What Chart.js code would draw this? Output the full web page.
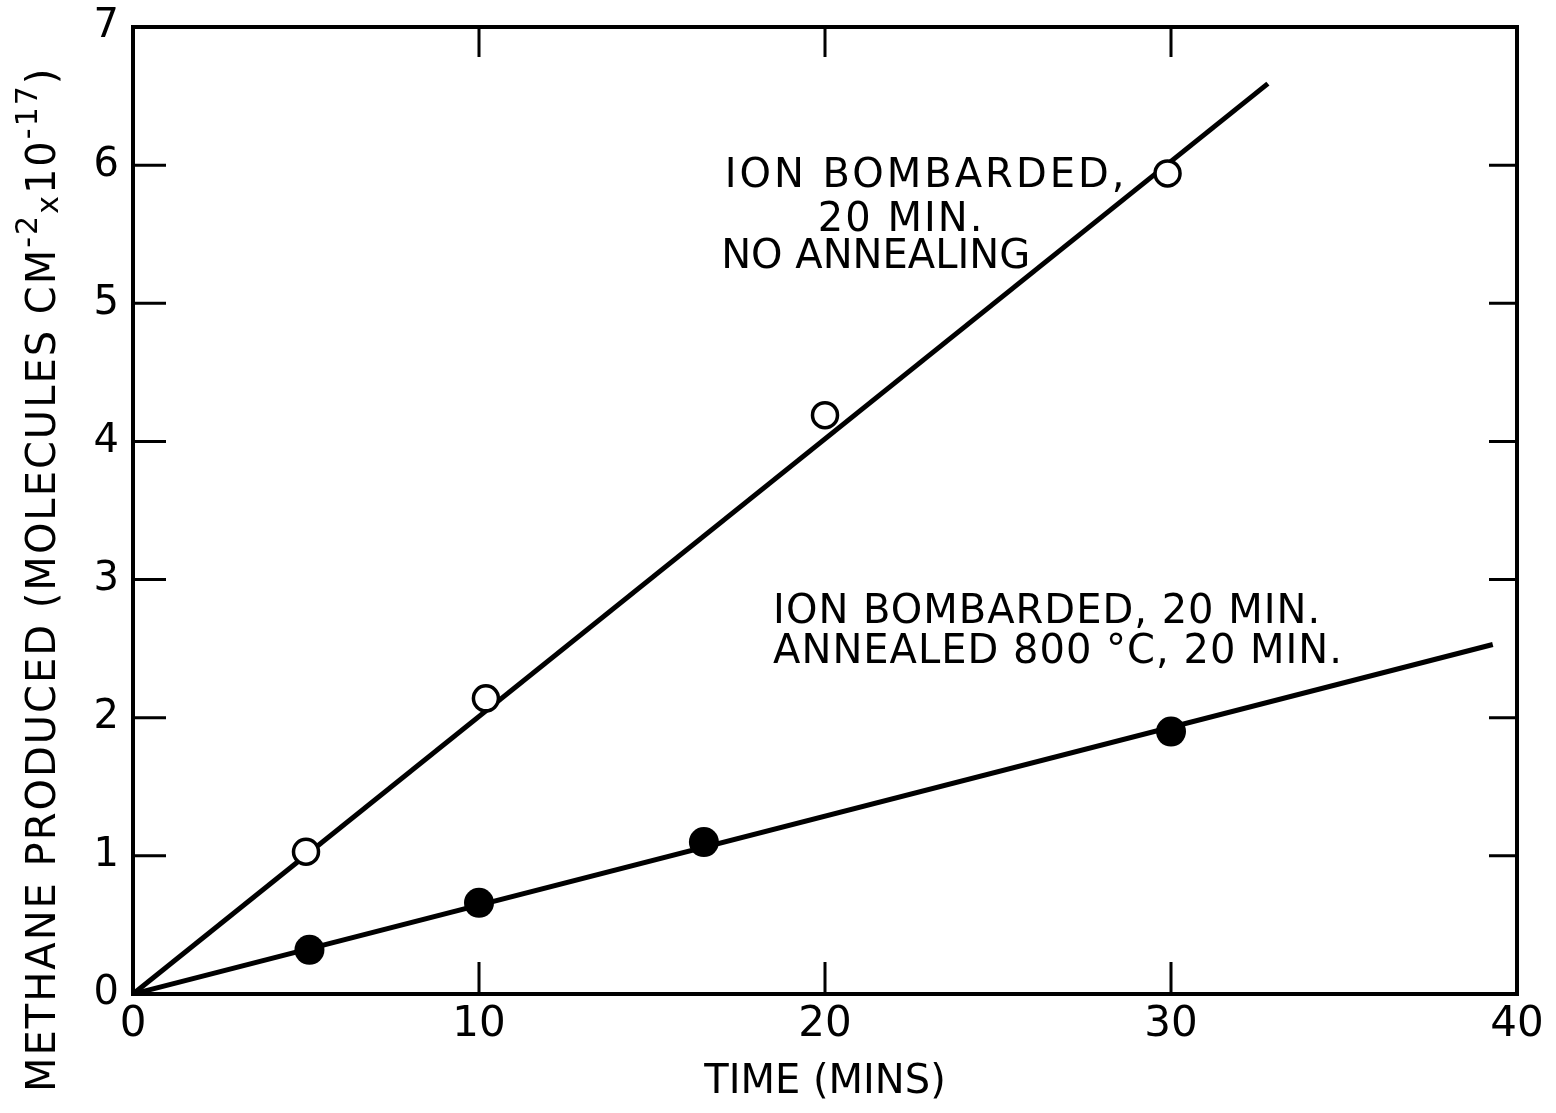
<!DOCTYPE html>
<html lang="en">
<head>
<meta charset="UTF-8">
<title>Methane produced vs time</title>
<script src="https://cdn.jsdelivr.net/npm/chart.js"></script>
<style>
    body {
        margin: 0;
        background: #fff;
    }

    .chart-container {
        width: 1556px;
        height: 1113px;
    }
</style>
</head>
<body>
<div class="chart-container"><canvas id="grafico"></canvas></div>
<script>
    // tick values
    const xTicks = [0, 10, 20, 30, 40];
    const yTicks = [0, 1, 2, 3, 4, 5, 6, 7];

    // measured points (open circles: no annealing, filled: annealed 800 C)
    const noAnnealTime = [5, 10.2, 20, 29.9];
    const noAnnealMethane = [1.03, 2.14, 4.19, 5.94];
    const annealedTime = [5.1, 10, 16.5, 30];
    const annealedMethane = [0.32, 0.66, 1.10, 1.90];

    // hand drawn straight lines through origin
    const noAnnealLineTime = [0, 32.8];
    const noAnnealLineMethane = [0, 6.59];
    const annealedLineTime = [0, 39.3];
    const annealedLineMethane = [0, 2.53];

    const FONT = '"DejaVu Sans", sans-serif';

    function puntos(xs, ys) {
        return xs.map((x, i) => ({ x: x, y: ys[i] }));
    }

    // frame, inward ticks, y title and notes
    const marcoPlugin = {
        id: 'marco',
        beforeDatasetsDraw(chart) {
            const ctx = chart.ctx;
            const a = chart.chartArea;
            const sx = chart.scales.x;
            const sy = chart.scales.y;
            ctx.save();
            ctx.strokeStyle = '#000';
            ctx.lineWidth = 3;
            xTicks.slice(1, -1).forEach(v => {
                const px = sx.getPixelForValue(v);
                ctx.beginPath();
                ctx.moveTo(px, a.bottom); ctx.lineTo(px, a.bottom - 32);
                ctx.moveTo(px, a.top); ctx.lineTo(px, a.top + 30);
                ctx.stroke();
            });
            yTicks.slice(1, -1).forEach(v => {
                const py = sy.getPixelForValue(v);
                ctx.beginPath();
                ctx.moveTo(a.left, py); ctx.lineTo(a.left + 33, py);
                ctx.moveTo(a.right, py); ctx.lineTo(a.right - 28, py);
                ctx.stroke();
            });
            ctx.lineWidth = 4;
            ctx.strokeRect(a.left, a.top, a.right - a.left, a.bottom - a.top);
            ctx.restore();
        },
        afterDraw(chart, args, opts) {
            const ctx = chart.ctx;
            const sx = chart.scales.x;
            const sy = chart.scales.y;
            ctx.save();
            ctx.fillStyle = '#000';

            // y axis title with superscripts
            ctx.translate(opts.yTitleX, opts.yTitleBottom);
            ctx.rotate(-Math.PI / 2);
            ctx.textBaseline = 'middle';
            let pos = 0;
            opts.yTitle.forEach(p => {
                ctx.font = p.size + 'px ' + FONT;
                ctx.letterSpacing = '2px';
                ctx.fillText(p.t, pos, p.dy);
                pos += ctx.measureText(p.t).width;
            });
            ctx.setTransform(1, 0, 0, 1, 0, 0);

            // notes next to the lines
            ctx.font = '40px ' + FONT;
            ctx.textBaseline = 'middle';
            opts.notas.forEach(n => {
                ctx.letterSpacing = n.spacing + 'px';
                ctx.textAlign = n.align;
                ctx.fillText(n.t, sx.getPixelForValue(n.x), sy.getPixelForValue(n.y));
            });
            ctx.restore();
        }
    };

    const ctx = document.getElementById('grafico').getContext('2d');
    const grafico = new Chart(ctx, {
        type: 'scatter',
        data: {
            datasets: [
                {
                    label: 'Ion bombarded 20 min, no annealing',
                    data: puntos(noAnnealTime, noAnnealMethane),
                    pointRadius: 12.5,
                    pointBorderWidth: 3.5,
                    pointBackgroundColor: '#fff',
                    pointBorderColor: '#000',
                    order: 0
                },
                {
                    label: 'Ion bombarded 20 min, annealed 800 C 20 min',
                    data: puntos(annealedTime, annealedMethane),
                    pointRadius: 15,
                    pointBorderWidth: 0,
                    pointBackgroundColor: '#000',
                    pointBorderColor: '#000',
                    order: 1
                },
                {
                    label: 'line no annealing',
                    data: puntos(noAnnealLineTime, noAnnealLineMethane),
                    showLine: true,
                    borderColor: '#000',
                    borderWidth: 5,
                    pointRadius: 0,
                    order: 2
                },
                {
                    label: 'line annealed',
                    data: puntos(annealedLineTime, annealedLineMethane),
                    showLine: true,
                    borderColor: '#000',
                    borderWidth: 5,
                    pointRadius: 0,
                    order: 3
                }
            ]
        },
        options: {
            responsive: true,
            maintainAspectRatio: false,
            animation: false,
            events: [],
            layout: {
                padding: { top: 27, right: 39, left: 0, bottom: 0 }
            },
            plugins: {
                legend: { display: false },
                tooltip: { enabled: false },
                marco: {
                    yTitleX: 45,
                    yTitleBottom: 1092,
                    yTitle: [
                        { t: 'METHANE PRODUCED (MOLECULES CM', size: 40, dy: 0 },
                        { t: '-2', size: 30, dy: -16 },
                        { t: 'x', size: 30, dy: 5 },
                        { t: '10', size: 40, dy: 0 },
                        { t: '-17', size: 30, dy: -16 },
                        { t: ')', size: 40, dy: 0 }
                    ],
                    notas: [
                        { t: 'ION BOMBARDED,', x: 17.1, y: 5.92, align: 'left', spacing: 3 },
                        { t: '20 MIN.', x: 22.2, y: 5.6, align: 'center', spacing: 2 },
                        { t: 'NO ANNEALING', x: 17.0, y: 5.33, align: 'left', spacing: 0 },
                        { t: 'ION BOMBARDED, 20 MIN.', x: 18.5, y: 2.76, align: 'left', spacing: 1 },
                        { t: 'ANNEALED 800 °C, 20 MIN.', x: 18.5, y: 2.47, align: 'left', spacing: 1 }
                    ]
                }
            },
            scales: {
                x: {
                    type: 'linear',
                    min: 0,
                    max: 40,
                    afterFit: s => { s.height = 119; },
                    afterBuildTicks: s => { s.ticks = xTicks.map(v => ({ value: v })); },
                    grid: { display: false, drawTicks: false },
                    border: { display: false },
                    ticks: {
                        color: '#000',
                        padding: 6,
                        font: { family: FONT, size: 42 }
                    },
                    title: {
                        display: true,
                        text: 'TIME (MINS)',
                        color: '#000',
                        padding: { top: 0, bottom: 6 },
                        font: { family: FONT, size: 40 }
                    }
                },
                y: {
                    type: 'linear',
                    min: 0,
                    max: 7,
                    afterFit: s => { s.width = 133; s.paddingTop = 0; s.paddingBottom = 0; },
                    afterBuildTicks: s => { s.ticks = yTicks.map(v => ({ value: v })); },
                    grid: { display: false, drawTicks: false },
                    border: { display: false },
                    ticks: {
                        color: '#000',
                        padding: 14,
                        font: { family: FONT, size: 40 }
                    }
                }
            }
        },
        plugins: [marcoPlugin]
    });
</script>
</body>
</html>
